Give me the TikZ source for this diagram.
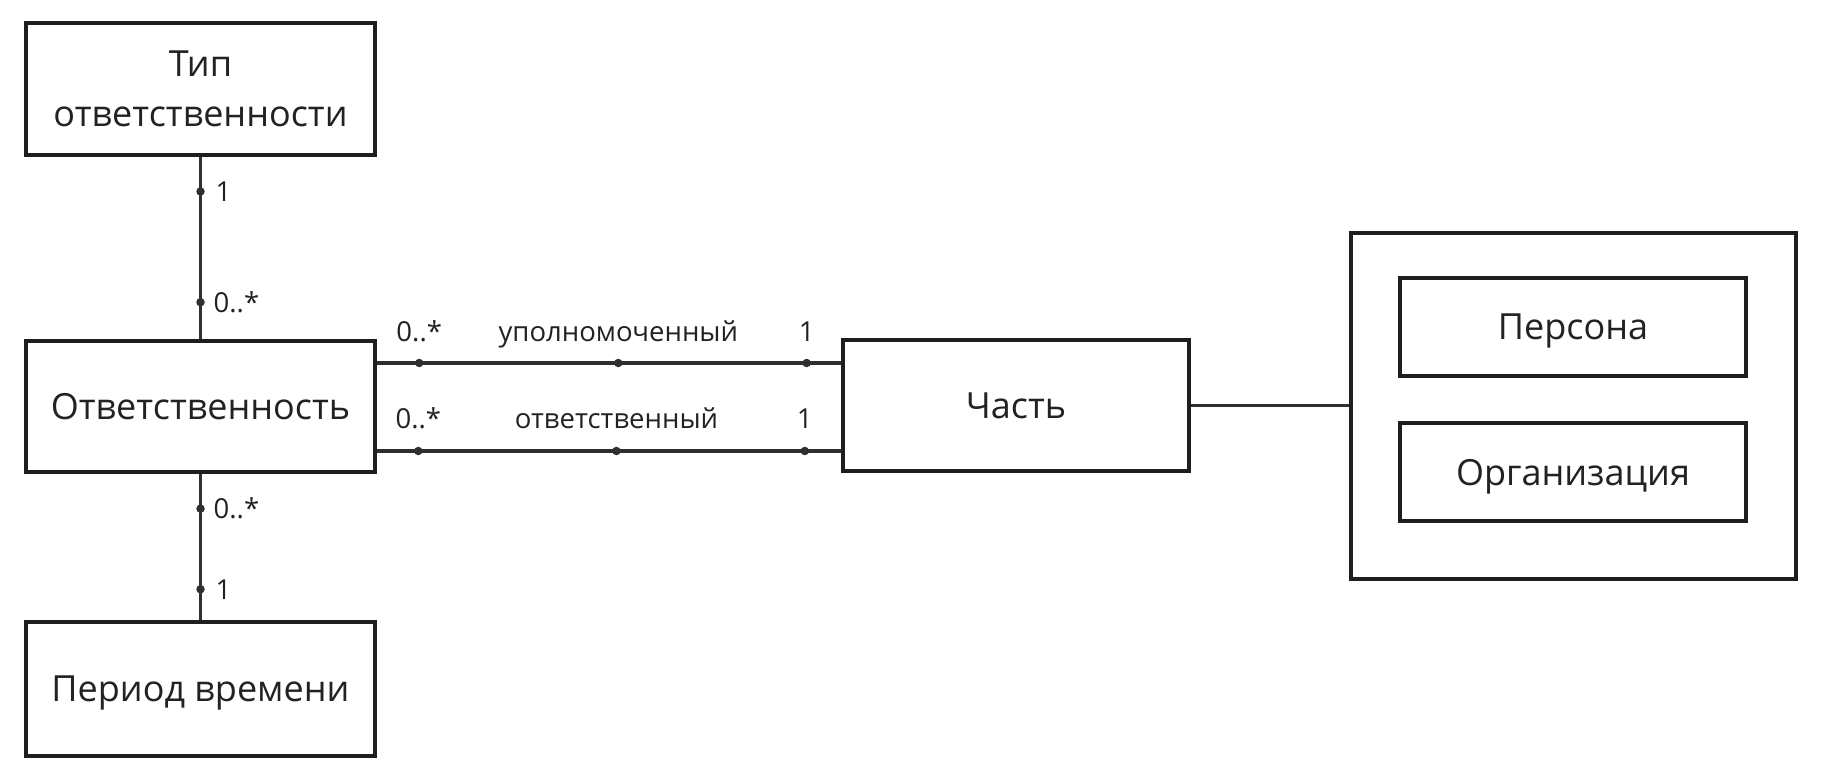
\documentclass[tikz,border=0pt]{standalone}
\usepackage{fontspec}
\setmainfont{Open Sans}
\usetikzlibrary{positioning}
\definecolor{boxc}{HTML}{1E1E1E}
\definecolor{linec}{HTML}{2F2F2F}
\definecolor{txtc}{HTML}{222222}
\tikzset{
  ent/.style={draw=boxc, line width=4pt, rectangle, inner sep=0pt, text=txtc,
    font=\fontsize{36}{50}\selectfont, align=center, text depth=0pt},
  assoc/.style={draw=linec, line width=3.6pt},
  dotm/.style={circle, fill=linec, inner sep=0pt, minimum size=8.5pt},
  mult/.style={text=txtc, font=\fontsize{27.5}{33}\selectfont, inner sep=0pt},
}
\begin{document}
\begin{tikzpicture}[x=1pt,y=-1pt]
\useasboundingbox[fill=white] (0,0) rectangle (1829,779);
% entities
\node[ent, minimum width=349pt, minimum height=132pt] (tip) at (200.5,89) {Тип\\ответственности};
\node[ent, minimum width=349pt, minimum height=131pt] (otv) at (200.5,406) {Ответственность};
\node[ent, minimum width=349pt, minimum height=134pt] (per) at (200.5,689) {Период времени};
\node[ent, minimum width=346pt, minimum height=131pt] (part) at (1016,405.5) {Часть};
\node[ent, minimum width=445pt, minimum height=346pt] (outer) at (1573.5,406) {};
\node[ent, minimum width=346pt, minimum height=98pt] (pers) at (1573,327) {Персона};
\node[ent, minimum width=346pt, minimum height=98pt] (org) at (1573,472) {Организация};
% vertical associations
\draw[assoc] (tip.south) -- (otv.north)
  node[pos=0.19, dotm] (d1) {} node[pos=0.80, dotm] (d2) {};
\node[mult, anchor=west] at ([xshift=15pt]d1.center) {1};
\node[mult, anchor=west] at ([xshift=13pt]d2.center) {0..*};
\draw[assoc] (otv.south) -- (per.north)
  node[pos=0.24, dotm] (d3) {} node[pos=0.79, dotm] (d4) {};
\node[mult, anchor=west] at ([xshift=13pt]d3.center) {0..*};
\node[mult, anchor=west] at ([xshift=15pt]d4.center) {1};
% horizontal associations
\draw[assoc] ([yshift=43pt]otv.east) -- ([yshift=42.5pt]part.west)
  node[pos=0.091, dotm] (u1) {} node[pos=0.52, dotm] (u2) {} node[pos=0.926, dotm] (u3) {};
\node[mult, anchor=base] at ([yshift=22pt]u1.center) {0..*};
\node[mult, anchor=base] at ([yshift=22pt]u2.center) {уполномоченный};
\node[mult, anchor=base] at ([yshift=22pt]u3.center) {1};
\draw[assoc] ([yshift=-45pt]otv.east) -- ([yshift=-45.5pt]part.west)
  node[pos=0.089, dotm] (l1) {} node[pos=0.516, dotm] (l2) {} node[pos=0.922, dotm] (l3) {};
\node[mult, anchor=base] at ([yshift=23pt]l1.center) {0..*};
\node[mult, anchor=base] at ([yshift=23pt]l2.center) {ответственный};
\node[mult, anchor=base] at ([yshift=23pt]l3.center) {1};
% link to party group
\draw[assoc, line width=3.9pt] (part.east) -- (outer.west |- part.east);
\end{tikzpicture}
\end{document}
